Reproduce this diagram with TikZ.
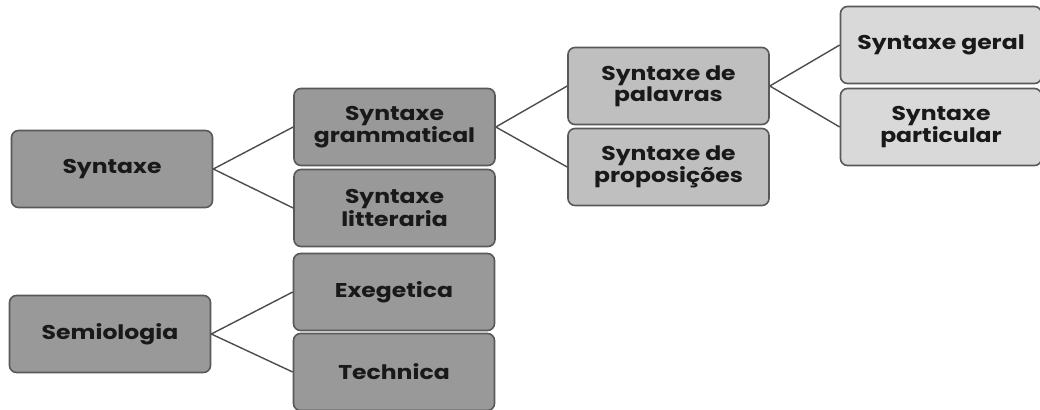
\documentclass[tikz,border=0pt]{standalone}
\usepackage{fontspec}
\setmainfont{Poppins}[FakeStretch=1.18]
\begin{document}
\begin{tikzpicture}[x=1bp,y=-1bp,
  box/.style={draw=black!65, line width=1.6bp, rounded corners=7bp,
    minimum width=201bp, minimum height=77bp, inner sep=0pt,
    align=center, font=\fontsize{20}{21}\selectfont\bfseries, text=black!90},
  lvA/.style={box, fill=black!40},
  lvB/.style={box, fill=black!25},
  lvC/.style={box, fill=black!15},
  link/.style={draw=black!70, line width=1.4bp}]
\useasboundingbox (0,0) rectangle (1040,409);
\clip (0,0) rectangle (1040,409);
% first-level topics
\node[lvA] (syn) at (112,169) {Syntaxe};
\node[lvA] (sem) at (110,334) {Semiologia};
% second level
\node[lvA] (gram) at (394.5,127) {Syntaxe\\grammatical};
\node[lvA] (litt) at (394.5,208) {Syntaxe\\litteraria};
\node[lvA] (exeg) at (394,292) {Exegetica};
\node[lvA] (tech) at (394,372) {Technica};
% third level
\node[lvB] (pal) at (668.5,86) {Syntaxe de\\palavras};
\node[lvB] (prop) at (668.5,167) {Syntaxe de\\proposições};
% fourth level
\node[lvC] (ger) at (941,45) {Syntaxe geral};
\node[lvC] (part) at (941,127) {Syntaxe\\particular};
% connectors
\draw[link] (syn.east) -- (gram.west);
\draw[link] (syn.east) -- (litt.west);
\draw[link] (gram.east) -- (pal.west);
\draw[link] (gram.east) -- (prop.west);
\draw[link] (pal.east) -- (ger.west);
\draw[link] (pal.east) -- (part.west);
\draw[link] (sem.east) -- (exeg.west);
\draw[link] (sem.east) -- (tech.west);
\end{tikzpicture}
\end{document}
